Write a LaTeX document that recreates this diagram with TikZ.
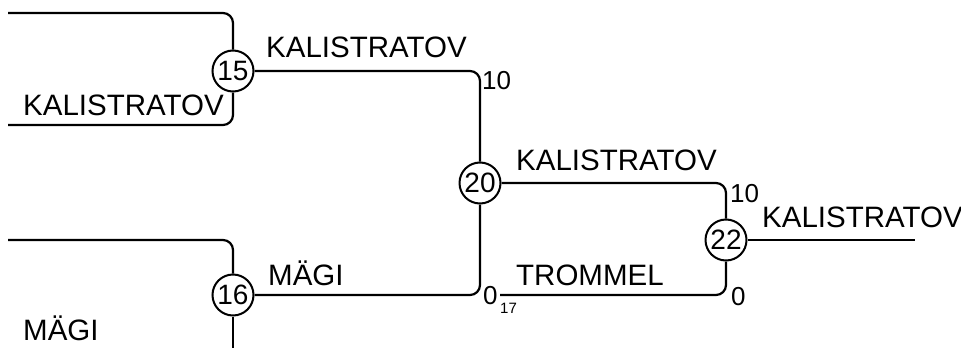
\documentclass[tikz,border=0pt]{standalone}
\usepackage{fontspec}
\setmainfont{Liberation Sans}
\begin{document}
\begin{tikzpicture}[x=1pt,y=-1pt,
  wire/.style={line width=2.2pt,rounded corners=10pt},
  game/.style={circle,draw,line width=2pt,minimum size=41pt,inner sep=0pt,fill=white,font=\fontsize{28}{30}\selectfont},
  plyr/.style={anchor=base west,inner sep=0pt,font=\fontsize{29.5}{31}\selectfont},
  scr/.style={anchor=base west,inner sep=0pt,font=\fontsize{26}{28}\selectfont},
  subl/.style={anchor=base west,inner sep=0pt,font=\fontsize{15}{16}\selectfont}]
\useasboundingbox (0,0) rectangle (961,348);
% match nodes
\node[game] (n15) at (233,71) {15};
\node[game] (n20) at (480,183) {20};
\node[game] (n16) at (233,295) {16};
\node[game] (n22) at (726,240) {22};
% free ends
\coordinate (a15) at (8,13);
\coordinate (b15) at (8,125);
\coordinate (a16) at (8,240);
\coordinate (b16) at (233,348);
\coordinate (t0) at (500,295);
\coordinate (w22) at (915,240);
% connectors
\draw[wire] (a15) -| (n15.north);
\draw[wire] (b15) -| (n15.south);
\draw[wire] (n15.east) -| (n20.north);
\draw[wire] (a16) -| (n16.north);
\draw[wire] (n16.south) -- (b16);
\draw[wire] (n16.east) -| (n20.south);
\draw[wire] (n20.east) -| (n22.north);
\draw[wire] (t0) -| (n22.south);
\draw[wire] (n22.east) -- (w22);
% labels
\node[plyr] (l1) at (23,115) {KALISTRATOV};
\node[plyr] (l2) at (266,57) {KALISTRATOV};
\node[scr] (s1) at (482,89) {10};
\node[plyr] (l3) at (516,170) {KALISTRATOV};
\node[scr] (s2) at (730,202) {10};
\node[plyr] (l4) at (762,227) {KALISTRATOV};
\node[scr] (s3) at (731,305) {0};
\node[plyr] (l5) at (516,285) {TROMMEL};
\node[plyr] (l6) at (268,285) {MÄGI};
\node[scr] (s4) at (483,304) {0};
\node[subl] (s5) at (500,313) {17};
\node[plyr] (l7) at (23,340) {MÄGI};
\end{tikzpicture}
\end{document}
